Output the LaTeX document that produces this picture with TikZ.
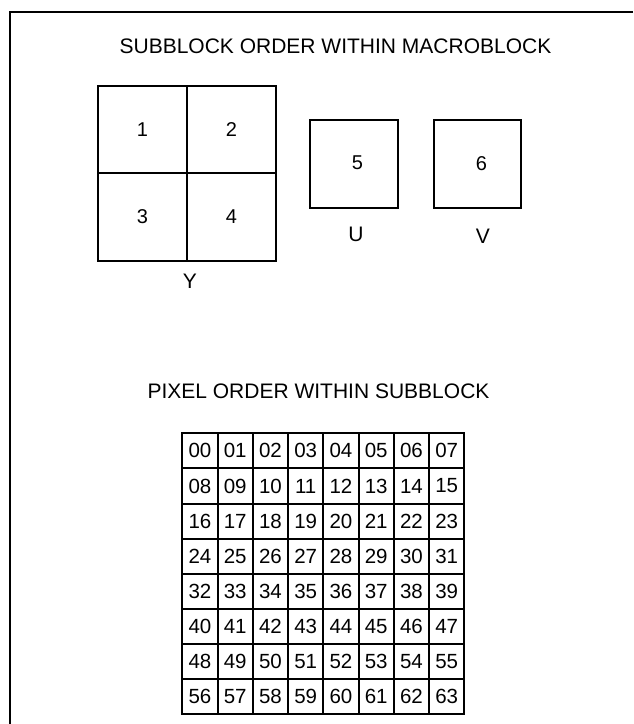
\documentclass[tikz,border=0pt]{standalone}
\usepackage{fontspec}
\setmainfont{Liberation Sans}
\usetikzlibrary{positioning}
\tikzset{
  heading/.style={
    font=\fontsize{21}{25}\selectfont, inner sep=0pt,
  },
  blockcell/.style={
    draw=black, line width=2pt, minimum width=88.5pt, minimum height=87.5pt,
    inner sep=0pt, font=\fontsize{20}{24}\selectfont,
  },
  chromabox/.style={
    draw=black, line width=2pt, minimum width=87.5pt, minimum height=87.5pt,
    inner sep=0pt, font=\fontsize{20}{24}\selectfont,
  },
  planelabel/.style={
    font=\fontsize{21}{25}\selectfont, inner sep=0pt,
  },
  pixcell/.style={
    draw=black, line width=2pt, minimum width=35.25pt, minimum height=35.1pt,
    inner sep=0pt, font=\fontsize{20.5}{24}\selectfont,
  },
  frame/.style={draw=black, line width=2.4pt},
}

\begin{document}
\begin{tikzpicture}[x=1pt, y=-1pt]
\useasboundingbox (0,0) rectangle (633,724);

% =========================================================================
% frame (top and left edges only)
% =========================================================================
\coordinate (frame-tr) at (633,12);
\coordinate (frame-tl) at (10,12);
\coordinate (frame-bl) at (10,724);
\draw[frame] (frame-tr) -- (frame-tl) -- (frame-bl);

% =========================================================================
% subblock order within macroblock
% =========================================================================
\node[heading] (title-mb) at (335.5,46) {SUBBLOCK ORDER WITHIN MACROBLOCK};

\node[blockcell] (sb1) at (142.5,129.5) {1};
\node[blockcell] (sb2) at (231.5,129.5) {2};
\node[blockcell] (sb3) at (142.5,217)   {3};
\node[blockcell] (sb4) at (231.5,217)   {4};

\node[chromabox] (sb5) at (354,164) {\raisebox{3pt}{\hspace*{7pt}5}};
\node[chromabox] (sb6) at (477.5,164) {\raisebox{1pt}{\hspace*{8pt}6}};

\node[planelabel] (lab-y) at (190,281) {Y};
\node[planelabel] (lab-u) at (356,234) {U};
\node[planelabel] (lab-v) at (483,236) {V};

% =========================================================================
% pixel order within subblock
% =========================================================================
\node[heading] (title-px) at (318.5,391) {PIXEL ORDER WITHIN SUBBLOCK};

\foreach \r in {0,...,7}{
  \foreach \c in {0,...,7}{
    \pgfmathtruncatemacro{\idx}{8*\r+\c}
    \node[pixcell] (px-\r-\c) at ({182.3+35.25*(\c+0.5)},{433.3+35.1*(\r+0.5)})
      {\ifnum\idx<10 0\fi\idx};
  }
}

\end{tikzpicture}
\end{document}
